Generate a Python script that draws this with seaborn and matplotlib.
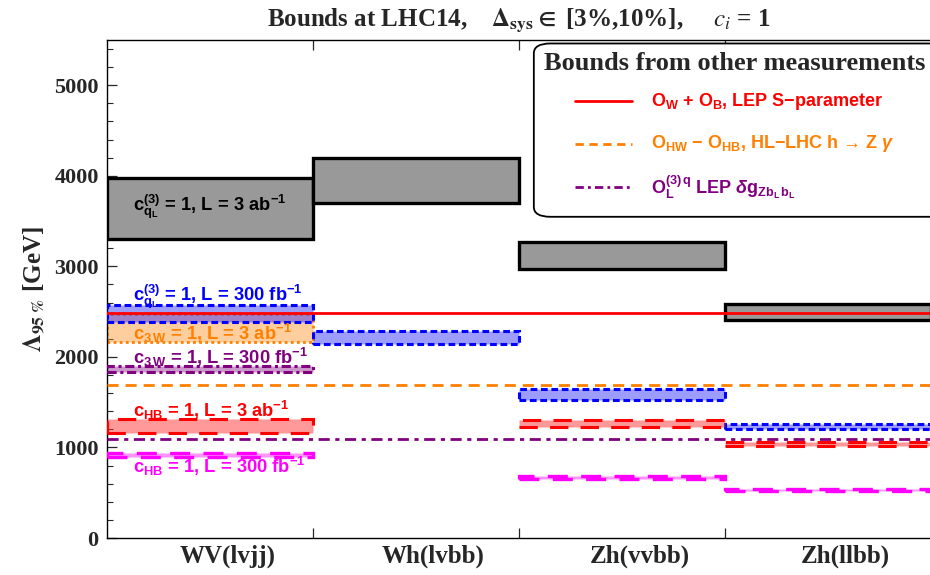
import numpy as np
import pandas as pd
import matplotlib
matplotlib.use("Agg")
import matplotlib.pyplot as plt
import seaborn as sns
from matplotlib.patches import FancyBboxPatch
from matplotlib.lines import Line2D

# ---------------- data ----------------
channels = ["WV(lvjj)", "Wh(lvbb)", "Zh(vvbb)", "Zh(llbb)"]

# c_qL^(3) = 1, L = 3 ab^-1  (gray)
cq3_ch = [0, 1, 2, 3]
cq3_lo = [3300, 3700, 2970, 2410]
cq3_hi = [3980, 4200, 3265, 2580]

# c_qL^(3) = 1, L = 300 fb^-1  (blue)
cq300_ch = [0, 1, 2, 3]
cq300_lo = [2390, 2140, 1520, 1200]
cq300_hi = [2570, 2290, 1650, 1255]

# c_3W = 1, L = 3 ab^-1  (orange)
c3w3_ch = [0]
c3w3_lo = [2160]
c3w3_hi = [2470]

# c_3W = 1, L = 300 fb^-1  (purple)
c3w300_ch = [0]
c3w300_lo = [1830]
c3w300_hi = [1900]

# c_HB = 1, L = 3 ab^-1  (red)
chb3_ch = [0, 2, 3]
chb3_lo = [1155, 1222, 1012]
chb3_hi = [1310, 1300, 1058]

# c_HB = 1, L = 300 fb^-1  (magenta)
chb300_ch = [0, 2, 3]
chb300_lo = [895, 650, 522]
chb300_hi = [937, 683, 537]

# bounds from other measurements
ref_names = ["S", "hZg", "Zbb"]
ref_values = [2490, 1690, 1095]

yticks = [0, 1000, 2000, 3000, 4000, 5000]

# ---------------- style ----------------
sns.set_theme(style="ticks")
plt.rcParams["font.family"] = ["Liberation Serif", "DejaVu Serif"]
plt.rcParams["mathtext.fontset"] = "custom"
plt.rcParams["mathtext.rm"] = "Liberation Sans:bold"
plt.rcParams["mathtext.it"] = "Liberation Sans:bold:italic"
plt.rcParams["mathtext.bf"] = "Liberation Sans:bold"
plt.rcParams["mathtext.sf"] = "Liberation Sans:bold"
plt.rcParams["mathtext.default"] = "rm"

fig = plt.figure(figsize=(9.3, 5.75), dpi=100)
ax = fig.add_axes([107 / 930, 1 - 538 / 575, 824 / 930, 498 / 575])

SANS = ["Liberation Sans", "DejaVu Sans"]


def boxes(chs, lo, hi, face, edge, ls, lw, z):
    x = np.array(chs) + 0.5
    ax.bar(x, np.array(hi) - np.array(lo), bottom=lo, width=1.0,
           color=face, edgecolor=edge, linestyle=ls, linewidth=lw, zorder=z)


boxes(cq3_ch, cq3_lo, cq3_hi, "#999999", "black", "-", 2.4, 2)
boxes(c3w3_ch, c3w3_lo, c3w3_hi, (1.0, 0.55, 0.1, 0.42), "#ff8000", (0, (1, 1.2)), 2.0, 2)
boxes(cq300_ch, cq300_lo, cq300_hi, (0.15, 0.15, 1.0, 0.45), "#0000ff", (0, (2.2, 1.2)), 2.2, 3)
boxes(c3w300_ch, c3w300_lo, c3w300_hi, (0.5, 0.0, 0.5, 0.4), "#800080", (0, (3, 1.2, 1, 1.2)), 2.2, 3)
boxes(chb3_ch, chb3_lo, chb3_hi, (1.0, 0.2, 0.2, 0.5), "#ff0000", (0, (6, 4)), 2.2, 3)
boxes(chb300_ch, chb300_lo, chb300_hi, (1.0, 0.3, 1.0, 0.6), "#ff00ff", (0, (6, 4)), 2.4, 3)

# reference lines
ref_styles = {"S": ("#ff0000", "-"), "hZg": ("#ff8000", (0, (4, 2.5))),
              "Zbb": ("#800080", (0, (4, 2, 1.5, 2)))}
for name, val in zip(ref_names, ref_values):
    col, ls = ref_styles[name]
    df = pd.DataFrame({"x": [0, 4], "y": [val, val]})
    sns.lineplot(data=df, x="x", y="y", ax=ax, color=col, linewidth=2.0,
                 linestyle=ls, zorder=5)

# annotations
anno = [
    (r"$c^{(3)}_{q_L}$ = 1, L = 3 ab$^{-1}$", 3660, "black"),
    (r"$c^{(3)}_{q_L}$ = 1, L = 300 fb$^{-1}$", 2665, "#0000ff"),
    (r"$c_{3\,W}$ = 1, L = 3 ab$^{-1}$", 2262, "#ff8000"),
    (r"$c_{3\,W}$ = 1, L = 300 fb$^{-1}$", 1995, "#800080"),
    (r"$c_{HB}$ = 1, L = 3 ab$^{-1}$", 1410, "#ff0000"),
    (r"$c_{HB}$ = 1, L = 300 fb$^{-1}$", 790, "#ff00ff"),
]
for txt, y, col in anno:
    ax.text(0.126, y, txt, color=col, ha="left", va="center", fontsize=13.2,
            fontweight="bold", family=SANS, zorder=6)

# axes formatting
ax.set_xlim(0, 4)
ax.set_ylim(0, 5500)
ax.set_xticks([0.585, 1.585, 2.585, 3.585])
ax.set_xticklabels(channels, fontsize=18, fontweight="bold")
ax.set_xticks([1, 2, 3], minor=True)
ax.tick_params(axis="x", which="major", length=0, pad=5)
ax.tick_params(axis="x", which="minor", direction="in", length=7, top=True, width=0.9)
ax.set_yticks(yticks)
ax.set_yticklabels([str(v) for v in yticks], fontsize=16, fontweight="bold")
ax.set_yticks(np.arange(0, 5500, 200), minor=True)
ax.tick_params(axis="y", which="major", direction="in", length=7, width=0.9, pad=6)
ax.tick_params(axis="y", which="minor", direction="in", length=4, width=0.8)
ax.spines["right"].set_visible(False)
for s in ["left", "bottom", "top"]:
    ax.spines[s].set_linewidth(1.0)
    ax.spines[s].set_color("black")
ax.set_xlabel("")
ax.set_ylabel(r"$\mathbf{\Lambda_{95\ \%}}$ [GeV]", fontsize=18, fontweight="bold",
              math_fontfamily="stix", labelpad=5)

ax.set_title(r"Bounds at LHC14,    $\mathbf{\Delta_{sys}\in}$ [3%,10%],     $\mathit{c_i}$ = 1",
             fontsize=18, fontweight="bold", math_fontfamily="stix", pad=10)

# legend box for other bounds
lb = FancyBboxPatch((0.518, 0.645), 0.53, 0.348, transform=ax.transAxes,
                    boxstyle="round,pad=0,rounding_size=0.02",
                    facecolor="white", edgecolor="black", linewidth=1.3,
                    zorder=8, clip_on=False)
ax.add_patch(lb)
ax.text(0.762, 0.953, "Bounds from other measurements", transform=ax.transAxes,
        ha="center", va="center", fontsize=19, fontweight="bold", zorder=9)
leg_rows = [
    (r"$O_W$ + $O_B$, LEP S−parameter", "#ff0000", "-", 0.877),
    (r"$O_{HW}$ − $O_{HB}$, HL−LHC h → Z $\mathit{\gamma}$", "#ff8000", (0, (3, 2)), 0.792),
    (r"$O^{(3)\,q}_L$ LEP $\mathit{\delta}$$g_{Zb_L\,b_L}$", "#800080", (0, (3, 1.5, 1, 1.5)), 0.705),
]
for txt, col, ls, y in leg_rows:
    ax.add_line(Line2D([0.568, 0.637], [y, y], transform=ax.transAxes, color=col,
                       linestyle=ls, linewidth=2.0, zorder=9))
    ax.text(0.660, y, txt, transform=ax.transAxes, color=col, ha="left",
            va="center", fontsize=13, fontweight="bold", family=SANS, zorder=9)

fig.savefig("out.png", dpi=100)
